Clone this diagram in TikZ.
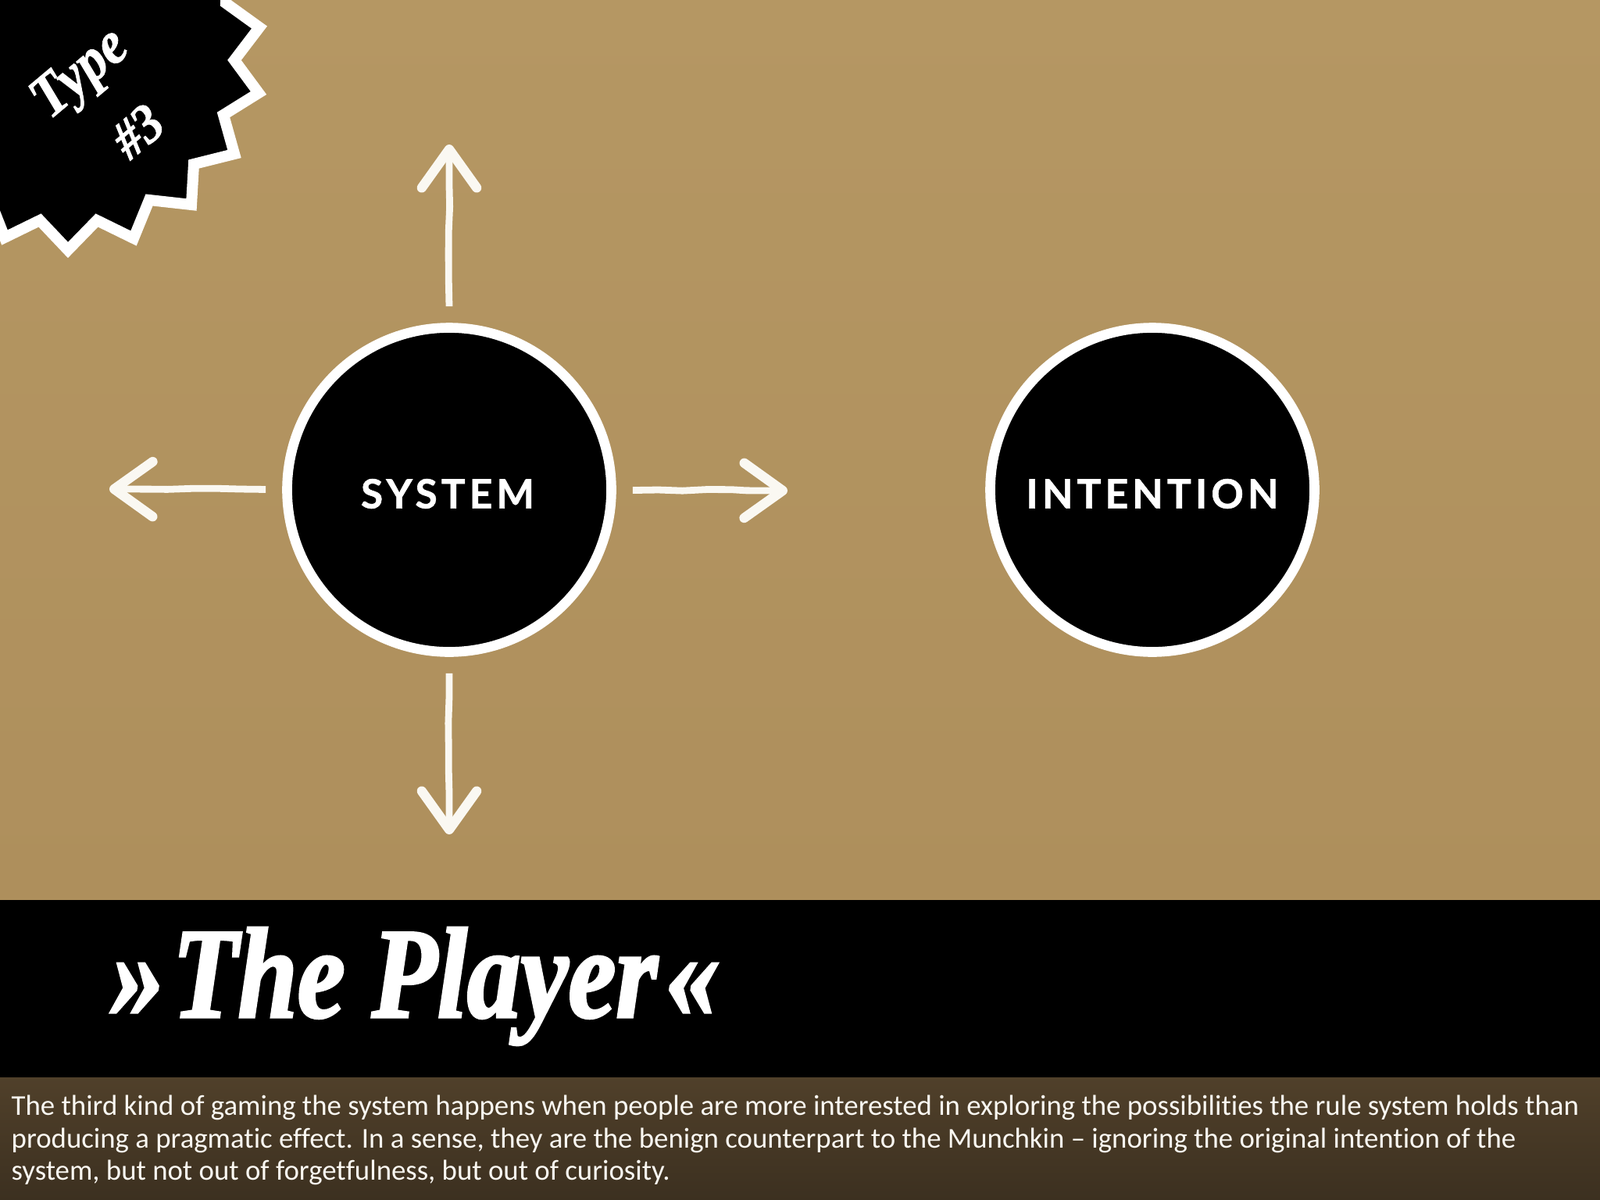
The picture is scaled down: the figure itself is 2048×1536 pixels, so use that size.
\documentclass[tikz,border=0pt]{standalone}
\usepackage{fontspec}
\usetikzlibrary{arrows.meta,shadows,decorations.pathmorphing}
\setmainfont{Carlito}[Ligatures=NoCommon]
\newfontfamily\swashfont{Liberation Serif}[FakeStretch=0.83,FakeBold=2]
\newfontfamily\tagfont{Liberation Serif}[FakeStretch=0.9,FakeBold=1]
\newfontfamily\roundfont{Lato}[LetterSpace=10,FakeBold=1.2]
\definecolor{card_top}{RGB}{181, 151, 99}
\definecolor{card_low}{RGB}{174, 143, 92}
\definecolor{band_top}{RGB}{80, 64, 42}
\definecolor{band_low}{RGB}{60, 48, 32}
\definecolor{chalk_white}{RGB}{250, 248, 242}
\tikzstyle{disc}=[circle,fill=black,draw=white,line width=3.6pt,
  minimum size=118pt,inner sep=0pt]
\tikzstyle{disctext}=[text=white,font=\roundfont\bfseries\fontsize{14.6}{16}\selectfont,
  inner sep=0pt]
\tikzstyle{chalk}=[draw=chalk_white,line width=2.5pt,decorate,
  decoration={random steps,segment length=9pt,amplitude=0.35pt,
    pre=moveto,pre length=6pt,post length=15pt},
  -{Straight Barb[length=14pt,width=20pt,line width=3.5pt,round]}]
\tikzstyle{burst}=[fill=black,draw=white,line width=4pt,miter limit=10,
  drop shadow={shadow xshift=1pt,shadow yshift=-1pt,opacity=0.3}]
\tikzstyle{tagtext}=[text=white,rotate=40,inner sep=0pt,
  font=\tagfont\bfseries\itshape\fontsize{22}{24}\selectfont]
\begin{document}
\begin{tikzpicture}[x=0.01cm,y=-0.01cm]
    \useasboundingbox (0,0) rectangle (2048,1536);
    \clip (0,0) rectangle (2048,1536);
    % backdrop
    \shade [top color=card_top,bottom color=card_low] (0,0) rectangle (2048,1152);
    \fill [black] (0,1152) rectangle (2048,1379);
    \shade [top color=band_top,bottom color=band_low] (0,1379) rectangle (2048,1536);
    % corner badge
    \draw [style=burst] (-20,-20) -- (290,-20) -- (289,4) -- (332,35) -- (300,77) -- (331,119)
      -- (286,147) -- (300,197) -- (248,210) -- (245,262) -- (191,256) -- (171,305)
      -- (124,282) -- (87,320) -- (51,282) -- (6,304) -- (-5,276) -- (-20,276) -- cycle;
    \node [style=tagtext] (tag) at (105,97) {Type};
    \node [style=tagtext,font=\tagfont\bfseries\itshape\fontsize{20}{22}\selectfont]
      (num) at (176,168) {\#3};
    % discs
    \node [style=disc] (system) at (575,627) {};
    \node [style=disc] (intention) at (1475,627) {};
    \node [style=disctext] (systemlabel) at (573,632) {SYSTEM};
    \node [style=disctext] (intentionlabel) at (1475,632) {INTENTION};
    \coordinate (upend) at (575,185);
    \coordinate (rightend) at (1008,628);
    \coordinate (downend) at (575,1068);
    \coordinate (leftend) at (140,626);
    \draw [style=chalk] (system) to (upend);
    \draw [style=chalk] (system) to (rightend);
    \draw [style=chalk] (system) to (downend);
    \draw [style=chalk] (system) to (leftend);
    % title and caption
    \node [anchor=base west,text=white,inner sep=0pt,
      font=\swashfont\bfseries\itshape\fontsize{47}{50}\selectfont]
      (title) at (141,1302) {»\kern3pt The Player\kern3pt «};
    \node [anchor=north west,align=left,text=chalk_white,inner sep=0pt,
      font=\fontsize{10.47}{11.9}\selectfont] (caption) at (14,1401)
      {The third kind of gaming the system happens when people are more interested in exploring the possibilities the rule system holds than\\
       producing a pragmatic effect. In a sense, they are the benign counterpart to the Munchkin – ignoring the original intention of the\\
       system, but not out of forgetfulness, but out of curiosity.};
  \end{tikzpicture}
\end{document}
